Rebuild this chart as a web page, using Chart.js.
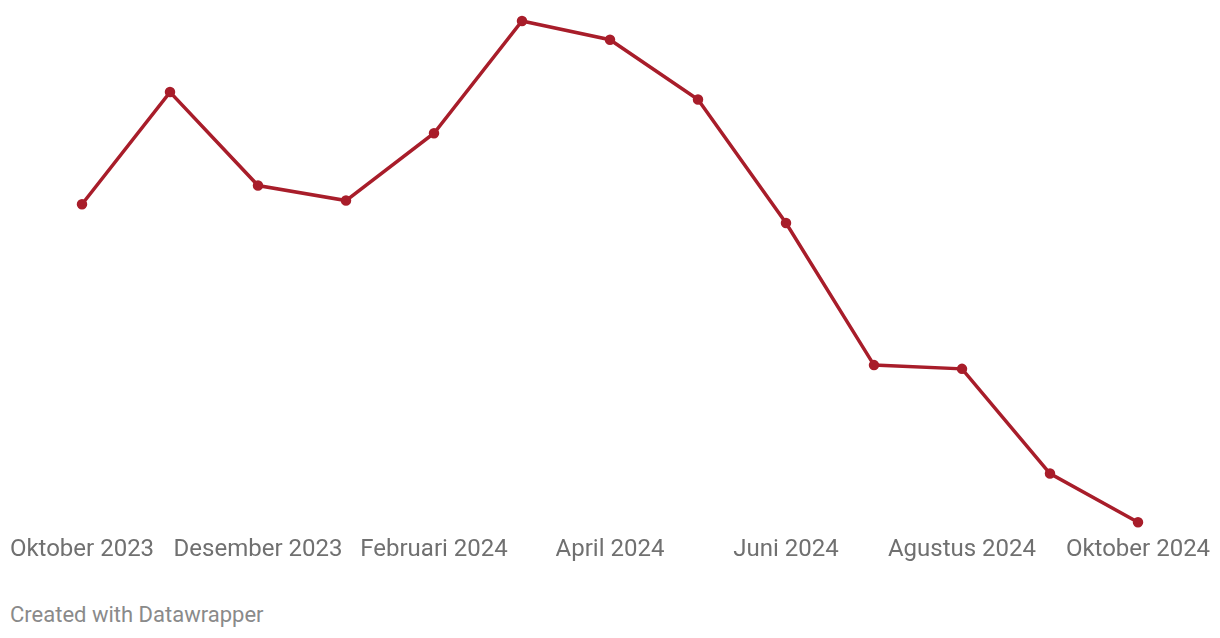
<!DOCTYPE html>
<html>
<head>
<meta charset="utf-8">
<script src="https://cdn.jsdelivr.net/npm/chart.js@4"></script>
<style>
  html, body { margin: 0; padding: 0; background: #fff; }
  #wrap { position: relative; width: 1220px; height: 569px; }
  #credit { position: absolute; left: 10px; top: 602px; font-family: Roboto, sans-serif; font-size: 22px; color: #8a8a8a; }
</style>
</head>
<body>
<div id="wrap"><canvas id="chart"></canvas></div>
<div id="credit">Created with Datawrapper</div>
<script>
// bulan (Okt 2023 - Okt 2024)
const months = ['Oktober 2023', 'November 2023', 'Desember 2023', 'Januari 2024', 'Februari 2024', 'Maret 2024',
    'April 2024', 'Mei 2024', 'Juni 2024', 'Juli 2024', 'Agustus 2024', 'September 2024', 'Oktober 2024'];
// nilai per bulan
const values = [2.56, 2.86, 2.61, 2.57, 2.75, 3.05, 3.00, 2.84, 2.51, 2.13, 2.12, 1.84, 1.71];
const yMin = 1.71;
const yMax = 3.05;

new Chart(document.getElementById('chart'), {
    type: 'line',
    data: {
        labels: months,
        datasets: [{
            data: values,
            borderColor: '#a81d2a',
            backgroundColor: '#a81d2a',
            borderWidth: 3.5,
            pointRadius: 3.5,
            pointHoverRadius: 3.5,
            tension: 0,
            clip: false
        }]
    },
    options: {
        responsive: true,
        maintainAspectRatio: false,
        animation: false,
        layout: { padding: { left: 82, right: 82, top: 21, bottom: 0 } },
        plugins: { legend: { display: false }, tooltip: { enabled: false } },
        scales: {
            x: {
                offset: false,
                grid: { display: false },
                border: { display: false },
                ticks: {
                    autoSkip: false,
                    maxRotation: 0,
                    padding: 5,
                    color: '#707070',
                    font: { family: 'Roboto', size: 24 },
                    callback: function (v, i) { return i % 2 === 0 ? months[i] : ''; }
                }
            },
            y: {
                display: false,
                min: yMin,
                max: yMax
            }
        }
    }
});
</script>
</body>
</html>
